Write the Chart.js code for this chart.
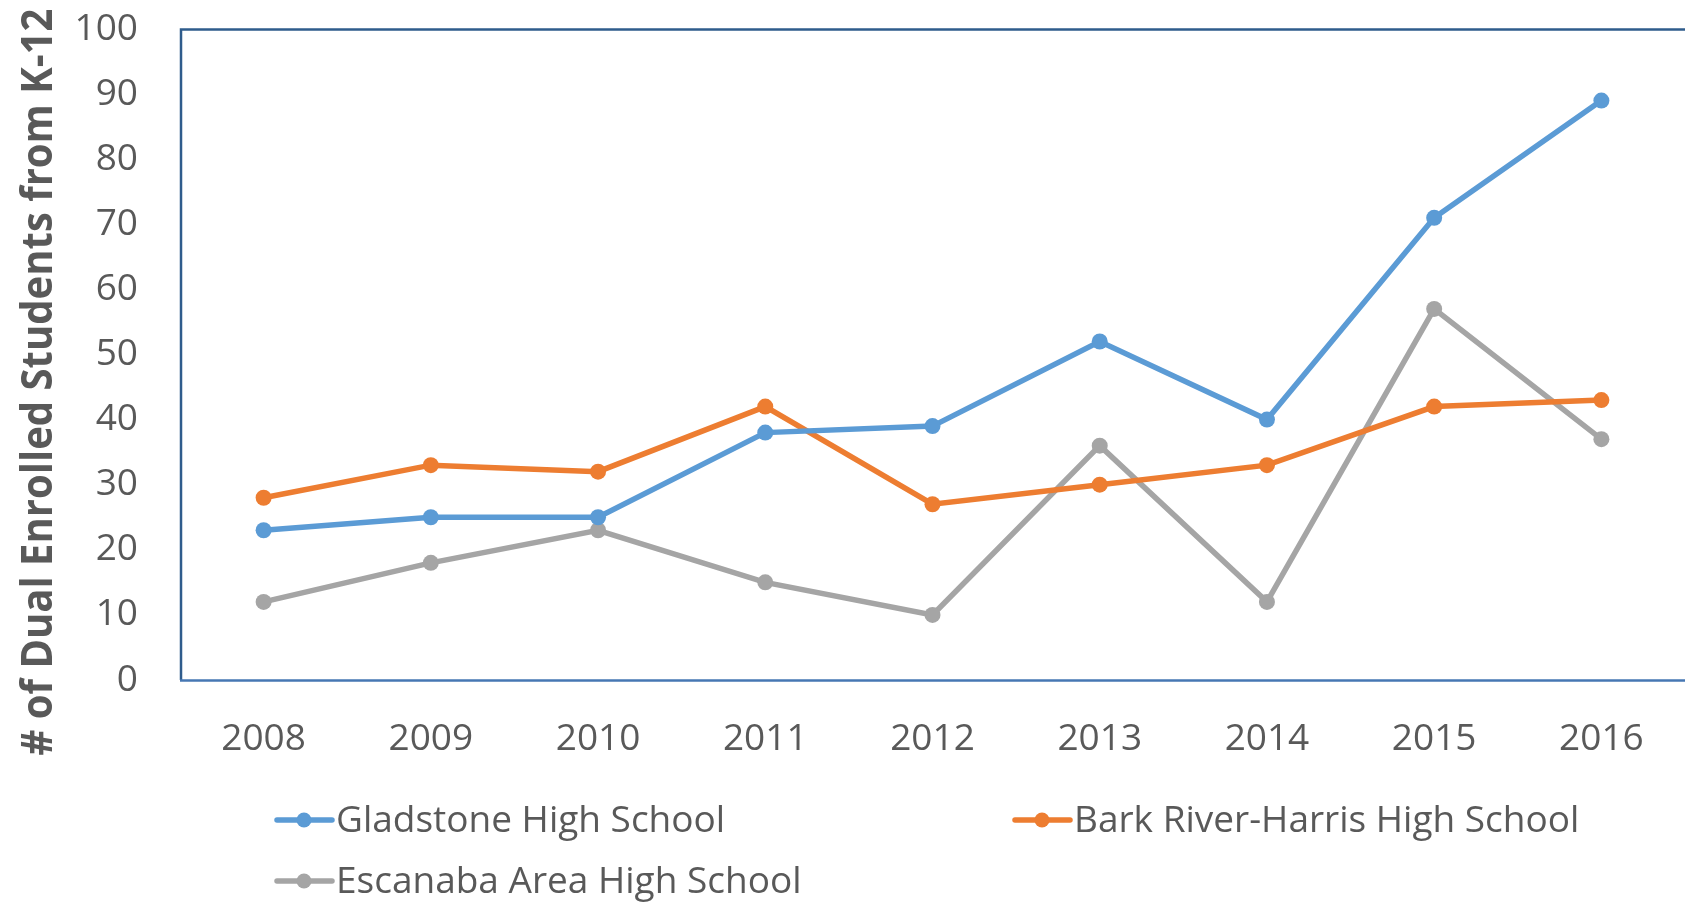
<!DOCTYPE html>
<html>
<head>
<meta charset="utf-8">
<script src="https://cdn.jsdelivr.net/npm/chart.js@4.4.1/dist/chart.umd.min.js"></script>
<style>
  html, body { margin: 0; padding: 0; background: #ffffff; overflow: hidden; }
  #wrap { width: 1685px; height: 903px; }
  canvas { display: block; }
</style>
</head>
<body>
<div id="wrap"><canvas id="c" width="1685" height="903"></canvas></div>
<script>
const years = ["2008", "2009", "2010", "2011", "2012", "2013", "2014", "2015", "2016"];
const gladstone = [23, 25, 25, 38, 39, 52, 40, 71, 89];
const barkRiver = [28, 33, 32, 42, 27, 30, 33, 42, 43];
const escanaba = [12, 18, 23, 15, 10, 36, 12, 57, 37];
const seriesNames = ["Gladstone High School", "Bark River-Harris High School", "Escanaba Area High School"];
const seriesColors = ["#5B9BD5", "#ED7D31", "#A5A5A5"];
const yTitle = "# of Dual Enrolled Students from K-12";
const yMin = 0, yMax = 100, yStep = 10;

const TEXT = "#595959";
const FONT = "'Open Sans', 'Noto Sans', sans-serif";

const framePlugin = {
  id: 'frame',
  beforeDatasetsDraw(chart) {
    const a = chart.chartArea, ctx = chart.ctx;
    ctx.save();
    ctx.lineWidth = 2.5;
    ctx.strokeStyle = "#2F5C8C";
    ctx.beginPath();
    ctx.moveTo(a.left + 1, a.bottom);
    ctx.lineTo(a.left + 1, a.top + 0.5);
    ctx.lineTo(chart.width, a.top + 0.5);
    ctx.stroke();
    ctx.strokeStyle = "#4677B3";
    ctx.beginPath();
    ctx.moveTo(a.left, a.bottom + 0.5);
    ctx.lineTo(chart.width, a.bottom + 0.5);
    ctx.stroke();
    ctx.restore();
  }
};

const yTitlePlugin = {
  id: 'ytitle',
  afterDraw(chart) {
    const ctx = chart.ctx;
    ctx.save();
    ctx.font = "bold 43px " + FONT;
    ctx.fillStyle = TEXT;
    ctx.textAlign = 'center';
    ctx.textBaseline = 'middle';
    const w = ctx.measureText(yTitle).width;
    const target = 747;
    ctx.translate(40, 382);
    ctx.rotate(-Math.PI / 2);
    if (w > target) ctx.scale(target / w, 1);
    ctx.fillText(yTitle, 0, 0);
    ctx.restore();
  }
};

const legendPlugin = {
  id: 'customLegend',
  afterDraw(chart) {
    const ctx = chart.ctx;
    const cols = [277, 1015];
    const rows = [820, 881];
    ctx.save();
    ctx.font = "37px " + FONT;
    ctx.textBaseline = 'middle';
    ctx.textAlign = 'left';
    chart.data.datasets.forEach((ds, i) => {
      const x = cols[i % 2], y = rows[Math.floor(i / 2)];
      ctx.strokeStyle = ds.borderColor;
      ctx.lineWidth = 5.5;
      ctx.lineCap = 'round';
      ctx.beginPath();
      ctx.moveTo(x, y);
      ctx.lineTo(x + 55, y);
      ctx.stroke();
      ctx.fillStyle = ds.borderColor;
      ctx.beginPath();
      ctx.arc(x + 27, y, 7.5, 0, Math.PI * 2);
      ctx.fill();
      ctx.fillStyle = TEXT;
      ctx.fillText(ds.label, x + 59, y + 1);
    });
    ctx.restore();
  }
};

const values = [gladstone, barkRiver, escanaba];
new Chart(document.getElementById('c'), {
  type: 'line',
  data: {
    labels: years,
    datasets: values.map((v, i) => ({
      label: seriesNames[i],
      data: v,
      borderColor: seriesColors[i],
      backgroundColor: seriesColors[i],
      pointBackgroundColor: seriesColors[i],
      pointBorderWidth: 0,
      pointRadius: 8,
      borderWidth: 5.5,
      tension: 0,
      fill: false
    }))
  },
  options: {
    responsive: false,
    animation: false,
    devicePixelRatio: 1,
    layout: { autoPadding: false, padding: { left: 0, top: 29, right: 0, bottom: 133 } },
    plugins: { legend: { display: false }, tooltip: { enabled: false } },
    scales: {
      x: {
        type: 'category',
        offset: true,
        grid: { display: false, drawTicks: false },
        border: { display: false },
        ticks: { color: TEXT, font: { family: FONT, size: 37 }, padding: 37, maxRotation: 0 },
        afterFit(s) { s.height = 90; s.paddingLeft = 0; s.paddingRight = 0; }
      },
      y: {
        min: yMin, max: yMax,
        grid: { display: false, drawTicks: false },
        border: { display: false },
        ticks: { stepSize: yStep, color: TEXT, font: { family: FONT, size: 37 }, padding: 42 },
        afterFit(s) { s.width = 180; s.paddingTop = 0; s.paddingBottom = 0; }
      }
    }
  },
  plugins: [framePlugin, yTitlePlugin, legendPlugin]
});
</script>
</body>
</html>
